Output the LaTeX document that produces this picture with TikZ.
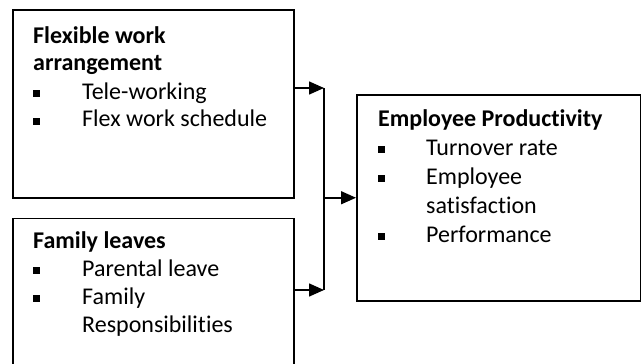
\documentclass[tikz,border=0pt]{standalone}
\usepackage{fontspec}
\setmainfont{Carlito}[Ligatures=NoCommon]
\usetikzlibrary{arrows.meta,positioning}
\tikzstyle{factor}=[
	rectangle,
	draw,
	line width=1.5pt,
	inner sep=0pt
]
\tikzstyle{items}=[
	anchor=base west,
	inner sep=0pt,
	font=\fontsize{24}{28}\selectfont
]
\tikzstyle{influence}=[
	-{Triangle[length=15pt,width=13pt]},
	line width=1.5pt
]
\newcommand{\itembox}{\rule[2pt]{7pt}{7pt}}

\begin{document}
\begin{tikzpicture}[x=1pt,y=-1pt]
\useasboundingbox (0,0) rectangle (641,364);
\clip (0,0) rectangle (641,364);
\node [factor, minimum width=281pt, minimum height=188pt, anchor=north west] (flexwork) at (12,9) {};
\node [factor, minimum width=281pt, minimum height=164pt, below=19pt of flexwork] (leaves) {};
\node [factor, minimum width=284pt, minimum height=206pt, anchor=north west] (productivity) at (356,94) {};
\node [items] (flexwork text) at (33,43) {\begin{tabular}[t]{@{}p{49pt}@{}l@{}}
	\multicolumn{2}{@{}l@{}}{\textbf{Flexible work}}\\
	\multicolumn{2}{@{}l@{}}{\textbf{arrangement}}\\
	\itembox & Tele-working\\
	\itembox & Flex work schedule
\end{tabular}};
\node [items] (leaves text) at (33,248) {\begin{tabular}[t]{@{}p{49pt}@{}l@{}}
	\multicolumn{2}{@{}l@{}}{\textbf{Family leaves}}\\
	\itembox & Parental leave\\
	\itembox & Family\\
	& Responsibilities
\end{tabular}};
\node [items, font=\fontsize{24}{29}\selectfont] (productivity text) at (378,126) {\begin{tabular}[t]{@{}p{48pt}@{}l@{}}
	\multicolumn{2}{@{}l@{}}{\textbf{Employee Productivity}}\\
	\itembox & Turnover rate\\
	\itembox & Employee\\
	& satisfaction\\
	\itembox & Performance
\end{tabular}};
\coordinate (join top) at (324,88);
\coordinate (join bottom) at (324,290);
\draw [influence] (flexwork.east |- join top) -- (join top);
\draw [influence] (leaves.east |- join bottom) -- (join bottom);
\draw [line width=1.5pt] (join top) -- (join bottom);
\draw [influence] (join top |- productivity.west) -- (productivity.west);
\end{tikzpicture}
\end{document}
